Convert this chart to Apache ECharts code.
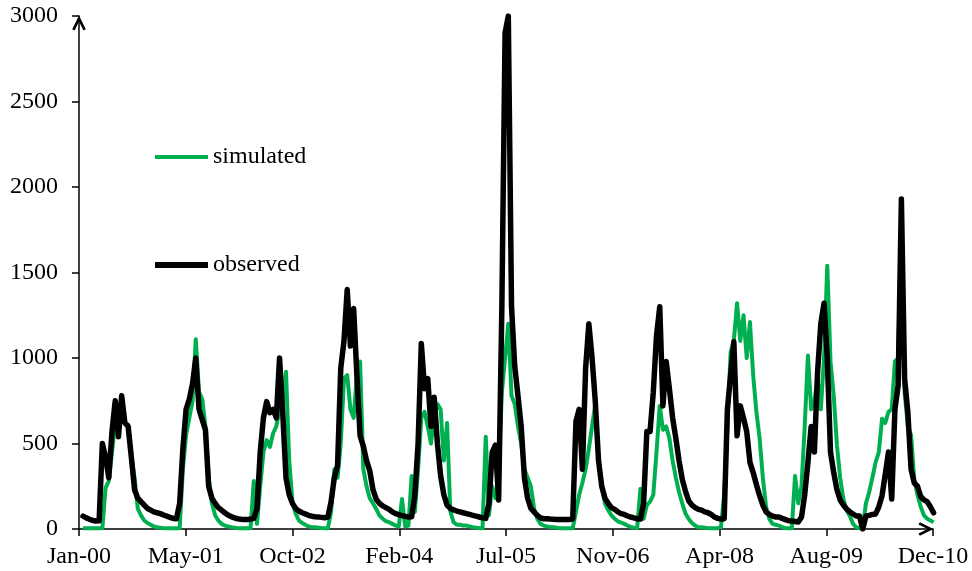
<html>
<head>
<meta charset="utf-8">
<script src="https://cdn.jsdelivr.net/npm/echarts@6/dist/echarts.min.js"></script>
<style>
  html, body { margin: 0; padding: 0; background: #fff; }
  #main { width: 972px; height: 571px; }
</style>
</head>
<body>
<div id="main"></div>
<script>
// x tick labels, one every 33 half-months
var xTickLabels = ['Jan-00', 'May-01', 'Oct-02', 'Feb-04', 'Jul-05', 'Nov-06', 'Apr-08', 'Aug-09', 'Dec-10'];

// observed flow, semi-monthly values (24 per year, last year has the end point too)
var obs2000 = [75, 65, 57, 50, 47, 48, 500, 420, 300, 570, 750, 540, 780, 620, 600, 420, 230, 180, 160, 140, 120, 110, 100, 95];
var obs2001 = [90, 82, 75, 68, 62, 60, 150, 470, 700, 760, 850, 1000, 700, 640, 580, 250, 180, 150, 125, 110, 95, 82, 72, 65];
var obs2002 = [60, 57, 55, 55, 58, 62, 120, 450, 650, 745, 680, 700, 650, 1000, 675, 300, 200, 150, 120, 105, 95, 88, 80, 75];
var obs2003 = [72, 70, 68, 66, 70, 160, 300, 370, 940, 1100, 1400, 1070, 1290, 900, 545, 485, 400, 340, 230, 175, 150, 135, 125, 115];
var obs2004 = [100, 90, 84, 78, 74, 70, 72, 200, 500, 1085, 820, 880, 600, 770, 500, 310, 200, 140, 120, 112, 105, 100, 95, 90];
var obs2005 = [85, 80, 75, 70, 65, 62, 150, 450, 490, 170, 1300, 2900, 3000, 1300, 950, 780, 600, 300, 180, 120, 100, 80, 65, 60];
var obs2006 = [60, 58, 57, 56, 55, 55, 55, 55, 60, 630, 700, 350, 940, 1200, 1000, 745, 400, 250, 180, 150, 125, 115, 100, 90];
var obs2007 = [85, 76, 70, 65, 60, 58, 150, 570, 570, 800, 1130, 1300, 720, 980, 820, 650, 530, 400, 290, 220, 165, 140, 125, 115];
var obs2008 = [110, 100, 95, 85, 70, 62, 58, 60, 700, 900, 1095, 545, 720, 650, 570, 390, 330, 260, 195, 140, 100, 85, 75, 70];
var obs2009 = [70, 62, 55, 48, 47, 44, 41, 70, 200, 390, 600, 450, 920, 1200, 1320, 1000, 450, 330, 230, 170, 140, 117, 100, 88];
var obs2010 = [76, 76, 0, 76, 80, 85, 88, 130, 195, 320, 450, 175, 700, 840, 1930, 880, 685, 350, 270, 250, 190, 170, 160, 130, 95];

// simulated flow, same sampling
var sim2000 = [5, 5, 5, 5, 5, 5, 5, 240, 280, 450, 620, 700, 640, 620, 610, 430, 300, 120, 80, 50, 35, 25, 15, 10];
var sim2001 = [8, 5, 5, 5, 5, 5, 5, 350, 550, 650, 750, 1110, 800, 760, 600, 300, 150, 80, 50, 30, 20, 15, 10, 8];
var sim2002 = [5, 5, 5, 5, 5, 280, 30, 250, 450, 520, 480, 560, 600, 700, 750, 920, 400, 160, 90, 50, 35, 25, 15, 10];
var sim2003 = [10, 8, 6, 5, 5, 100, 350, 300, 500, 880, 900, 700, 650, 900, 980, 350, 250, 180, 150, 117, 80, 60, 45, 40];
var sim2004 = [30, 20, 15, 175, 15, 20, 310, 100, 350, 650, 685, 600, 500, 650, 730, 700, 400, 620, 105, 40, 25, 25, 20, 20];
var sim2005 = [15, 10, 8, 5, 5, 540, 80, 250, 180, 300, 800, 1000, 1200, 780, 730, 600, 500, 350, 300, 250, 120, 60, 30, 20];
var sim2006 = [15, 12, 10, 8, 5, 5, 5, 5, 5, 100, 200, 270, 350, 470, 600, 730, 400, 250, 150, 110, 80, 60, 45, 38];
var sim2007 = [30, 20, 12, 8, 5, 235, 60, 140, 160, 200, 450, 720, 580, 600, 530, 400, 300, 215, 150, 90, 58, 35, 20, 10];
var sim2008 = [10, 8, 5, 5, 5, 5, 10, 200, 600, 1035, 1100, 1320, 1100, 1250, 1000, 1210, 900, 685, 530, 300, 130, 60, 30, 25];
var sim2009 = [20, 10, 5, 5, 5, 310, 150, 250, 600, 1015, 700, 750, 880, 700, 1000, 1540, 980, 780, 490, 300, 175, 110, 76, 30];
var sim2010 = [10, 5, 5, 150, 215, 300, 390, 450, 645, 620, 685, 700, 980, 1000, 1760, 800, 600, 550, 290, 200, 130, 80, 60, 50, 40];

var observed = [].concat(obs2000, obs2001, obs2002, obs2003, obs2004, obs2005, obs2006, obs2007, obs2008, obs2009, obs2010);
var simulated = [].concat(sim2000, sim2001, sim2002, sim2003, sim2004, sim2005, sim2006, sim2007, sim2008, sim2009, sim2010);

// where the readings were taken, in half-months on the x axis
var sampleStart = 1.24;
var sampleStep = 0.996;

function toPairs(arr) {
    return arr.map(function (v, i) { return [sampleStart + i * sampleStep, v]; });
}

var chart = echarts.init(document.getElementById('main'));
var font = '"Liberation Serif", "Times New Roman", serif';
// open chevron arrow head, drawn pointing up
var chevron = 'path://M0,12 L6,0 L12,12 L9.9,13.2 L6,5.2 L2.1,13.2 Z';

chart.setOption({
    animation: false,
    grid: { left: 79, right: 39, top: 16, bottom: 42 },
    legend: [
        {
            data: ['simulated'], left: 150, top: 140, icon: 'rect',
            itemWidth: 53, itemHeight: 4,
            textStyle: { fontFamily: font, fontSize: 24, color: '#000' }
        },
        {
            data: ['observed'], left: 150, top: 248, icon: 'rect',
            itemWidth: 53, itemHeight: 6,
            textStyle: { fontFamily: font, fontSize: 24, color: '#000' }
        }
    ],
    xAxis: {
        type: 'value', min: 0, max: 264, interval: 33,
        axisLine: {
            symbol: ['none', chevron], symbolSize: [16, 15], symbolOffset: [0, -7],
            lineStyle: { color: '#000', width: 1.5 }
        },
        axisTick: { show: true, length: 7, lineStyle: { color: '#000', width: 1.5 } },
        axisLabel: {
            margin: 16, fontFamily: font, fontSize: 24, color: '#000',
            showMaxLabel: true, showMinLabel: true,
            formatter: function (v) { return xTickLabels[Math.round(v / 33)]; }
        },
        splitLine: { show: false }
    },
    yAxis: {
        type: 'value', min: 0, max: 3000, interval: 500,
        axisLine: {
            show: true, symbol: ['none', chevron], symbolSize: [16, 15], symbolOffset: [0, -7],
            lineStyle: { color: '#000', width: 1.5 }
        },
        axisTick: { show: true, length: 7, lineStyle: { color: '#000', width: 1.5 } },
        axisLabel: {
            margin: 21, fontFamily: font, fontSize: 24, color: '#000',
            formatter: function (v) { return String(v); }
        },
        splitLine: { show: false }
    },
    series: [
        {
            name: 'simulated', type: 'line', data: toPairs(simulated),
            showSymbol: false, symbol: 'none',
            itemStyle: { color: '#00b050' },
            lineStyle: { color: '#00b050', width: 4, join: 'round' }
        },
        {
            name: 'observed', type: 'line', data: toPairs(observed),
            showSymbol: false, symbol: 'none',
            itemStyle: { color: '#000' },
            lineStyle: { color: '#000', width: 5.5, join: 'round', cap: 'round' }
        }
    ]
});
</script>
</body>
</html>
